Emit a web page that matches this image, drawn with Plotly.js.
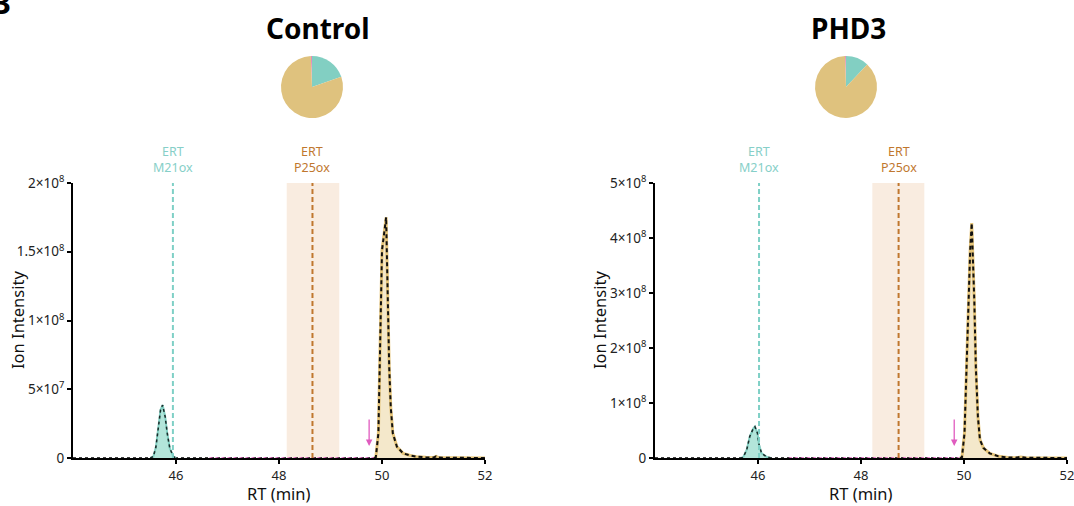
<!DOCTYPE html>
<html>
<head>
<meta charset="utf-8">
<script src="https://cdn.plot.ly/plotly-3.0.1.min.js"></script>
<style>html,body{margin:0;padding:0;background:#fff;}#chart{width:1074px;height:506px;}</style>
</head>
<body>
<div id="chart"></div>
<script>
// ---------- DATA ----------
const panelTitles = ["Control", "PHD3"];

// Pie fractions: [M21ox, other, P25ox]
const pieLabels = ["M21ox", "other", "P25ox"];
const pieControl = [19.7, 0.6, 79.7];
const piePHD3 = [12.0, 0.5, 87.5];

// Control chromatogram
const ctrlM21_rt  = [45.50, 45.56, 45.61, 45.66, 45.70, 45.74, 45.79, 45.83, 45.88, 45.95, 46.00];
const ctrlM21_int = [0, 1.0e6, 8.0e6, 2.3e7, 3.5e7, 3.85e7, 3.0e7, 1.8e7, 7.0e6, 1.0e6, 0];
const ctrlP25_rt  = [49.85, 49.88, 49.93, 49.96, 49.99, 50.00, 50.08, 50.09, 50.11, 50.14, 50.17, 50.21, 50.29, 50.41, 50.55, 50.67, 50.85, 51.00, 51.05, 51.10, 51.40, 52.00];
const ctrlP25_int = [0, 5.0e5, 1.8e7, 6.6e7, 1.15e8, 1.51e8, 1.75e8, 1.51e8, 1.15e8, 6.6e7, 3.7e7, 1.8e7, 8.2e6, 3.4e6, 1.8e6, 1.0e6, 5.0e5, 3.0e5, 1.2e6, 3.0e5, 2.0e5, 0];

// PHD3 chromatogram
const phdM21_rt  = [45.65, 45.71, 45.78, 45.84, 45.91, 45.94, 45.99, 46.02, 46.07, 46.17, 46.25];
const phdM21_int = [0, 1.0e6, 1.45e7, 3.9e7, 5.4e7, 5.7e7, 4.5e7, 2.4e7, 8.5e6, 2.0e6, 0];
const phdP25_rt  = [49.92, 49.96, 50.01, 50.05, 50.08, 50.12, 50.15, 50.17, 50.20, 50.23, 50.27, 50.31, 50.38, 50.50, 50.67, 50.85, 51.00, 51.10, 51.20, 52.00];
const phdP25_int = [0, 1.0e6, 4.5e7, 1.66e8, 2.87e8, 3.78e8, 4.27e8, 3.78e8, 2.87e8, 1.66e8, 7.5e7, 3.3e7, 1.8e7, 8.5e6, 3.0e6, 1.0e6, 5.0e5, 2.0e6, 5.0e5, 0];

// Baselines
const baseRT = [44, 52];
const baseInt = [0, 0];
const pinkRT_ctrl = [46.65, 49.85];
const pinkRT_phd = [46.60, 49.90];

// Expected retention times and windows
const ertM21 = [45.94, 46.02];
const ertP25 = [48.65, 48.73];
const windowP25 = [[48.15, 49.17], [48.22, 49.23]];
const arrowRT = [49.75, 49.81];
const arrowTip = [8.7e6, 2.2e7];

// Axis ticks
const xTicks = [46, 48, 50, 52];
const yTicksCtrl = [0, 5e7, 1e8, 1.5e8, 2e8];
const yLabelsCtrl = ["0", "5×10<sup>7</sup>", "1×10<sup>8</sup>", "1.5×10<sup>8</sup>", "2×10<sup>8</sup>"];
const yTicksPhd = [0, 1e8, 2e8, 3e8, 4e8, 5e8];
const yLabelsPhd = ["0", "1×10<sup>8</sup>", "2×10<sup>8</sup>", "3×10<sup>8</sup>", "4×10<sup>8</sup>", "5×10<sup>8</sup>"];
const yMax = [2e8, 5e8];

// ---------- STYLE ----------
const FONT = "Noto Sans, Open Sans, sans-serif";
const TEAL = "#82cfc2", TEAL_FILL = "#b3e5da", YEL = "#e6c57a", YEL_FILL = "#f4e8cb";
const PIE_Y = "#dfc27e", PINK = "#e05cbf", BROWN = "#c0772e", TEAL_TXT = "#86cfc8";

const W = 1074, H = 506;
const px = v => v / W, py = v => 1 - v / H;

function chromTraces(ax, m21rt, m21int, p25rt, p25int, pinkRT) {
  const xa = ax === 1 ? "x" : "x2", ya = ax === 1 ? "y" : "y2";
  return [
    {x: baseRT, y: baseInt, xaxis: xa, yaxis: ya, mode: "lines", line: {color: "#000", width: 1.5, dash: "dot"}, hoverinfo: "skip"},
    {x: pinkRT, y: baseInt, xaxis: xa, yaxis: ya, mode: "lines", line: {color: PINK, width: 1.5, dash: "3px,3px"}, hoverinfo: "skip"},
    {x: m21rt, y: m21int, xaxis: xa, yaxis: ya, mode: "lines", fill: "tozeroy", fillcolor: TEAL_FILL, line: {color: TEAL, width: 2}},
    {x: m21rt, y: m21int, xaxis: xa, yaxis: ya, mode: "lines", line: {color: "#1a2a28", width: 1.5, dash: "dot"}},
    {x: p25rt, y: p25int, xaxis: xa, yaxis: ya, mode: "lines", fill: "tozeroy", fillcolor: YEL_FILL, line: {color: YEL, width: 3}},
    {x: p25rt, y: p25int, xaxis: xa, yaxis: ya, mode: "lines", line: {color: "#111", width: 2, dash: "4px,3px"}}
  ];
}

const data = [].concat(
  chromTraces(1, ctrlM21_rt, ctrlM21_int, ctrlP25_rt, ctrlP25_int, pinkRT_ctrl),
  chromTraces(2, phdM21_rt, phdM21_int, phdP25_rt, phdP25_int, pinkRT_phd),
  [
    {type: "pie", labels: pieLabels, values: pieControl, sort: false, direction: "counterclockwise", rotation: 0,
     marker: {colors: [TEAL, "#e58bbd", PIE_Y], line: {width: 0}}, textinfo: "none", hoverinfo: "label+percent",
     domain: {x: [px(281), px(343)], y: [py(118), py(56)]}},
    {type: "pie", labels: pieLabels, values: piePHD3, sort: false, direction: "counterclockwise", rotation: 0,
     marker: {colors: [TEAL, "#e58bbd", PIE_Y], line: {width: 0}}, textinfo: "none", hoverinfo: "label+percent",
     domain: {x: [px(815), px(877)], y: [py(118), py(56)]}}
  ]
);

function xaxisDef(domain) {
  return {domain: domain, range: [44, 52], tickvals: xTicks, ticks: "outside", ticklen: 4, tickwidth: 2, tickcolor: "#000",
    showline: true, linecolor: "#000", linewidth: 2, showgrid: false, zeroline: false, ticklabeloverflow: "allow",
    tickfont: {family: FONT, size: 13, color: "#222"}};
}
function yaxisDef(anchor, max, vals, labels) {
  return {domain: [py(458), py(183)], anchor: anchor, range: [0, max], tickvals: vals, ticktext: labels,
    ticks: "outside", ticklen: 4, tickwidth: 2, tickcolor: "#000", showline: true, linecolor: "#000", linewidth: 2,
    showgrid: false, zeroline: false, ticklabeloverflow: "allow", tickfont: {family: FONT, size: 13.5, color: "#222"}};
}

const shapes = [], annotations = [];
[0, 1].forEach(i => {
  const xr = i === 0 ? "x" : "x2", yr = i === 0 ? "y" : "y2";
  shapes.push({type: "rect", xref: xr, yref: yr, x0: windowP25[i][0], x1: windowP25[i][1], y0: 0, y1: yMax[i],
    fillcolor: "#f9ece0", line: {width: 0}, layer: "below"});
  shapes.push({type: "line", xref: xr, yref: yr, x0: ertM21[i], x1: ertM21[i], y0: 0, y1: yMax[i],
    line: {color: "#7fd0c6", width: 2, dash: "5px,3px"}});
  shapes.push({type: "line", xref: xr, yref: yr, x0: ertP25[i], x1: ertP25[i], y0: 0, y1: yMax[i],
    line: {color: BROWN, width: 2, dash: "5px,3px"}});
  annotations.push({xref: xr, yref: "paper", x: ertM21[i], y: py(160), text: "ERT<br>M21ox", showarrow: false,
    xanchor: "center", yanchor: "middle", font: {family: FONT, size: 12.5, color: TEAL_TXT}, align: "center"});
  annotations.push({xref: xr, yref: "paper", x: ertP25[i], y: py(160), text: "ERT<br>P25ox", showarrow: false,
    xanchor: "center", yanchor: "middle", font: {family: FONT, size: 12.5, color: BROWN}, align: "center"});
  annotations.push({xref: xr, yref: yr, x: arrowRT[i], y: arrowTip[i], ax: 0, ay: -28, text: "", showarrow: true,
    arrowhead: 2, arrowsize: 1, arrowwidth: 1.3, arrowcolor: PINK});
  annotations.push({xref: "paper", yref: "paper", x: px(i === 0 ? 318 : 848), y: py(28), text: "<b>" + panelTitles[i] + "</b>",
    xanchor: "center", yanchor: "middle", showarrow: false, font: {family: FONT, size: 28, color: "#000"}});
  annotations.push({xref: "paper", yref: "paper", x: px(i === 0 ? 17 : 599), y: py(320), text: "Ion Intensity",
    textangle: -90, xanchor: "center", yanchor: "middle", showarrow: false, font: {family: FONT, size: 16.5, color: "#111"}});
  annotations.push({xref: "paper", yref: "paper", x: px(i === 0 ? 279 : 861), y: py(493), text: "RT (min)",
    xanchor: "center", yanchor: "middle", showarrow: false, font: {family: FONT, size: 16.5, color: "#111"}});
});
annotations.push({xref: "paper", yref: "paper", x: px(1), y: py(3), text: "<b>B</b>", showarrow: false,
  font: {family: FONT, size: 30, color: "#000"}, xanchor: "center", yanchor: "middle"});

const layout = {
  width: W, height: H, margin: {l: 0, r: 0, t: 0, b: 0}, paper_bgcolor: "#fff", plot_bgcolor: "#fff",
  showlegend: false, font: {family: FONT},
  xaxis: xaxisDef([px(73), px(485)]),
  yaxis: yaxisDef("x", yMax[0], yTicksCtrl, yLabelsCtrl),
  xaxis2: xaxisDef([px(655), px(1067)]),
  yaxis2: yaxisDef("x2", yMax[1], yTicksPhd, yLabelsPhd),
  shapes: shapes, annotations: annotations
};
layout.xaxis.anchor = "y";
layout.xaxis2.anchor = "y2";

Plotly.newPlot("chart", data, layout, {displayModeBar: false, staticPlot: true});
</script>
</body>
</html>
